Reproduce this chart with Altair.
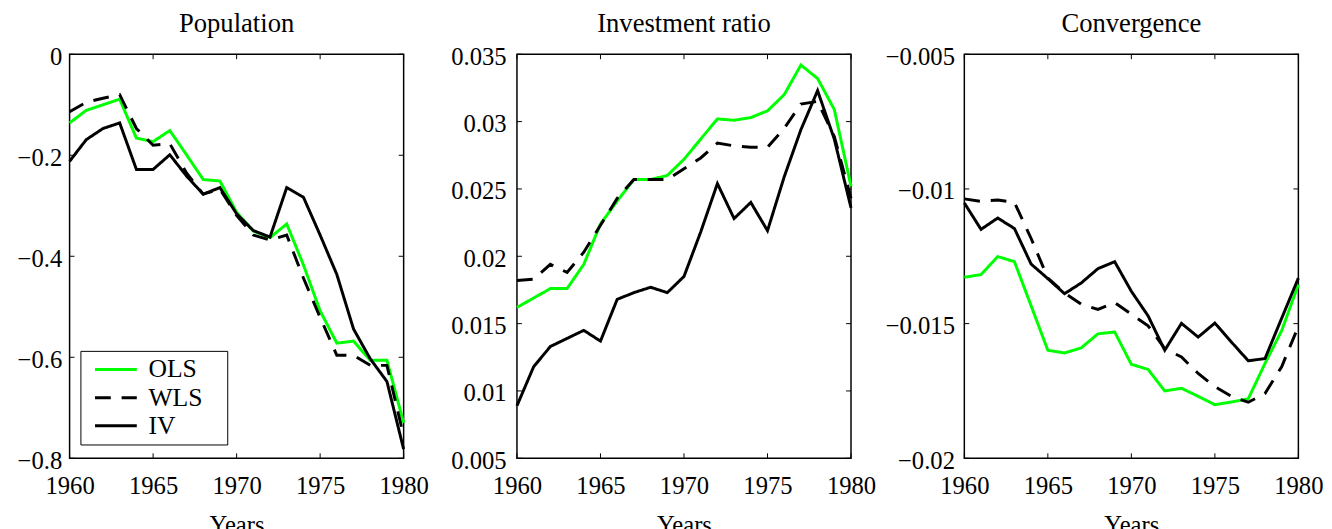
import altair as alt
import pandas as pd

FONT = "Liberation Serif"

years = list(range(1960, 1981))
series_names = ["OLS", "WLS", "IV"]
panel_titles = ["Population", "Investment ratio", "Convergence"]

pop_ols = [-0.136, -0.111, -0.100, -0.089, -0.166, -0.173, -0.151, -0.199, -0.248, -0.251, -0.313,
           -0.350, -0.363, -0.336, -0.417, -0.508, -0.572, -0.568, -0.606, -0.606, -0.730]
pop_wls = [-0.114, -0.095, -0.087, -0.080, -0.147, -0.180, -0.177, -0.235, -0.277, -0.267, -0.319,
           -0.358, -0.368, -0.358, -0.443, -0.521, -0.596, -0.596, -0.616, -0.616, -0.756]
pop_iv = [-0.212, -0.169, -0.147, -0.136, -0.228, -0.228, -0.199, -0.241, -0.277, -0.264, -0.316,
          -0.349, -0.362, -0.264, -0.283, -0.358, -0.436, -0.544, -0.603, -0.648, -0.782]

inv_ols = [0.0162, 0.0169, 0.0176, 0.0176, 0.0194, 0.0224, 0.0241, 0.0257, 0.0257, 0.0260, 0.0272,
           0.0287, 0.0302, 0.0301, 0.0303, 0.0308, 0.0320, 0.0342, 0.0332, 0.0309, 0.0252]
inv_wls = [0.0182, 0.0183, 0.0194, 0.0188, 0.0203, 0.0223, 0.0243, 0.0257, 0.0257, 0.0257, 0.0265,
           0.0273, 0.0284, 0.0282, 0.0281, 0.0281, 0.0295, 0.0313, 0.0315, 0.0289, 0.0243]
inv_iv = [0.0089, 0.0118, 0.0133, 0.0139, 0.0145, 0.0137, 0.0168, 0.0173, 0.0177, 0.0173, 0.0185,
          0.0218, 0.0254, 0.0228, 0.0240, 0.0219, 0.0259, 0.0294, 0.0323, 0.0287, 0.0236]

conv_ols = [-0.01328, -0.01318, -0.01251, -0.01270, -0.01434, -0.01599, -0.01609, -0.01590, -0.01538,
            -0.01531, -0.01651, -0.01670, -0.01750, -0.01740, -0.01770, -0.01801, -0.01791, -0.01779,
            -0.01648, -0.01526, -0.01355]
conv_wls = [-0.01037, -0.01046, -0.01041, -0.01050, -0.01184, -0.01331, -0.01386, -0.01428, -0.01447,
            -0.01422, -0.01465, -0.01508, -0.01593, -0.01624, -0.01685, -0.01734, -0.01770, -0.01792,
            -0.01760, -0.01660, -0.01510]
conv_iv = [-0.01052, -0.01150, -0.01108, -0.01147, -0.01279, -0.01333, -0.01389, -0.01349, -0.01296,
           -0.01270, -0.01380, -0.01471, -0.01599, -0.01499, -0.01550, -0.01498, -0.01569, -0.01638,
           -0.01630, -0.01480, -0.01331]

x_ticks = [1960, 1965, 1970, 1975, 1980]
y_ticks_list = [
    [-0.8, -0.6, -0.4, -0.2, 0],
    [0.005, 0.01, 0.015, 0.02, 0.025, 0.03, 0.035],
    [-0.02, -0.015, -0.01, -0.005],
]
y_domains = [[-0.8, 0], [0.005, 0.035], [-0.02, -0.005]]
panel_data = [
    [pop_ols, pop_wls, pop_iv],
    [inv_ols, inv_wls, inv_iv],
    [conv_ols, conv_wls, conv_iv],
]

W, H = 339, 410
TICK = 5
extents = [54, 87.5, 87.5]
label_pads = [8, 11, 10]

colors = ["#00ff00", "#000000", "#000000"]
dashes = [[1, 0], [16, 11], [1, 0]]


def make_panel(i):
    rows = []
    for name, vals in zip(series_names, panel_data[i]):
        for yr, v in zip(years, vals):
            rows.append({"year": yr, "series": name, "value": v})
    df = pd.DataFrame(rows)

    xenc = alt.X("year:Q",
                 scale=alt.Scale(domain=[1960, 1980], nice=False, zero=False),
                 axis=alt.Axis(values=x_ticks, format="d", title="Years", labelPadding=16,
                               titlePadding=14, labelFlush=False, labelOverlap=False))
    yenc = alt.Y("value:Q",
                 scale=alt.Scale(domain=y_domains[i], nice=False, zero=False),
                 axis=alt.Axis(values=y_ticks_list[i], format="~g", title=None,
                               minExtent=extents[i], labelPadding=label_pads[i],
                               labelOffset=2, labelOverlap=False))

    if i == 0:
        leg = alt.Legend(title=None, orient="none", legendX=11, legendY=301,
                         symbolType="M-0.84,0H7.64", symbolSize=100, symbolStrokeWidth=3,
                         labelFont=FONT, labelFontSize=26, labelColor="black",
                         labelExpr="datum.label + '\u2800'",
                         strokeColor="black", fillColor="white", padding=6,
                         rowPadding=2.5, labelOffset=37)
    else:
        leg = None

    lines = alt.Chart(df).mark_line(strokeWidth=3).encode(
        x=xenc,
        y=yenc,
        color=alt.Color("series:N", scale=alt.Scale(domain=series_names, range=colors), legend=leg),
        strokeDash=alt.StrokeDash("series:N", scale=alt.Scale(domain=series_names, range=dashes),
                                  legend=leg),
        order=alt.Order("ord:Q"),
    ).transform_calculate(
        ord="datum.series == 'OLS' ? 0 : (datum.series == 'WLS' ? 1 : 2)"
    )

    ydf = pd.DataFrame({"value": y_ticks_list[i]})
    xdf = pd.DataFrame({"year": x_ticks})
    rule = dict(color="black", strokeWidth=1)
    yl = alt.Chart(ydf).mark_rule(**rule).encode(y=yenc, x=alt.value(0), x2=alt.value(TICK))
    yr_ = alt.Chart(ydf).mark_rule(**rule).encode(y=yenc, x=alt.value(W - TICK), x2=alt.value(W))
    xb = alt.Chart(xdf).mark_rule(**rule).encode(x=xenc, y=alt.value(H), y2=alt.value(H - TICK))
    xt = alt.Chart(xdf).mark_rule(**rule).encode(x=xenc, y=alt.value(0), y2=alt.value(TICK))

    return alt.layer(lines, yl, yr_, xb, xt).properties(width=W, height=H, title=panel_titles[i])


chart = alt.hconcat(make_panel(0), make_panel(1), make_panel(2), spacing=0).resolve_scale(
    color="independent", strokeDash="independent"
).properties(
    padding={"top": -3, "left": 7.5, "right": 0, "bottom": 0}
).configure_view(
    stroke="black", strokeWidth=1.5
).configure_axis(
    grid=False, domain=False, ticks=False, tickSize=0,
    labelFont=FONT, labelFontSize=25, labelColor="black",
    titleFont=FONT, titleFontSize=25, titleFontWeight="normal", titleColor="black",
).configure_title(
    font=FONT, fontSize=27, fontWeight="normal", color="black",
    anchor="middle", frame="group", offset=7,
)

chart.save("out.html", embed_options={"renderer": "svg", "actions": False})
